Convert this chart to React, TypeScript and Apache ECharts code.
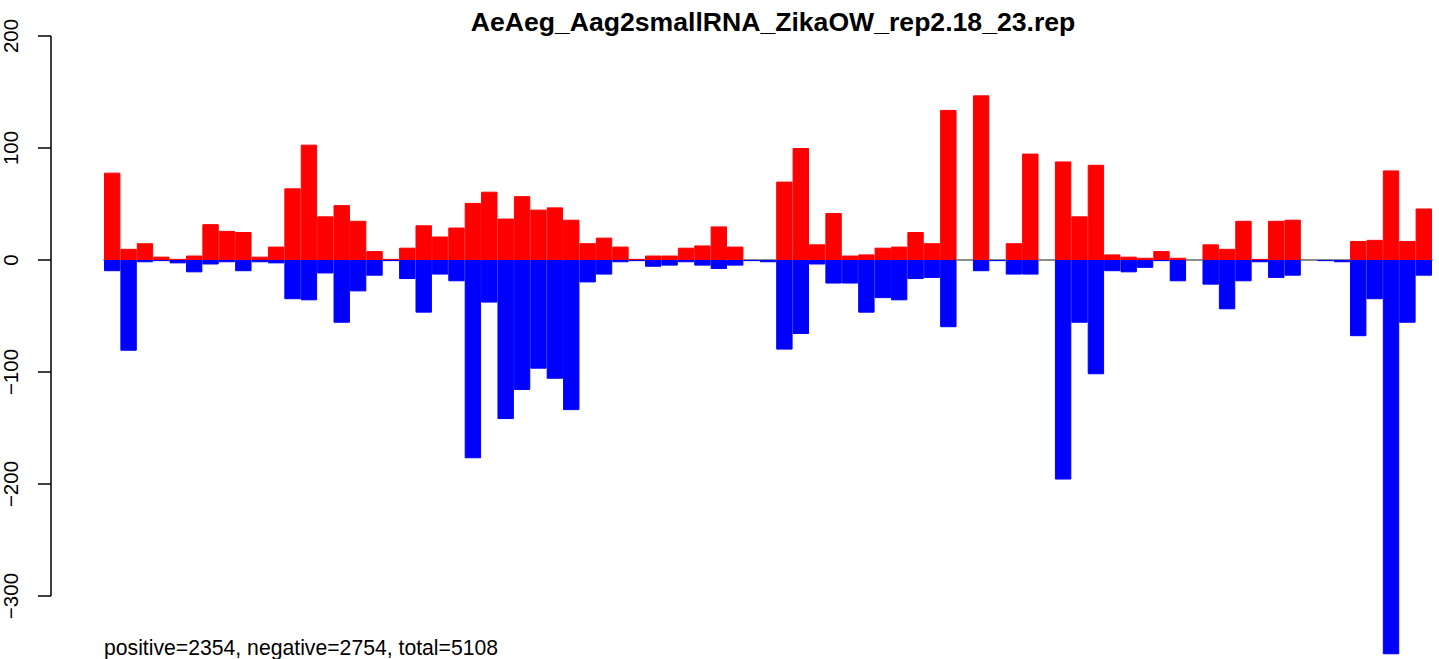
import React, { useEffect, useRef } from "react";
import * as echarts from "echarts";

const titleText = "AeAeg_Aag2smallRNA_ZikaOW_rep2.18_23.rep";
const footerText = "positive=2354, negative=2754, total=5108";

const positiveValues = [
  78, 10, 15, 3, 1, 4, 32, 26, 25, 3, 12, 64, 103, 39, 49, 35, 8, 1, 11,
  31, 21, 29, 51, 61, 37, 57, 45, 47, 36, 15, 20, 12, 1, 4, 4, 11, 13,
  30, 12, 0, 0, 70, 100, 14, 42, 4, 5, 11, 12, 25, 15, 134, 0, 147, 0, 15, 95, 0,
  88, 39, 85, 5, 3, 2, 8, 2, 0, 14, 10, 35, 1, 35, 36, 0, 0, 0, 17, 18, 80, 17, 46,
];

const negativeValues = [
  -10, -81, -2, -1, -3, -11, -4, -2, -10, -2, -3, -35, -36, -12, -56, -28, -14, -1, -17,
  -47, -13, -19, -177, -38, -142, -116, -97, -106, -134, -20, -13, -2, -1, -6, -5, -2, -5,
  -8, -5, -1, -2, -80, -66, -4, -21, -21, -47, -34, -36, -17, -16, -60, 0, -10, -1, -13, -13, 0,
  -196, -56, -102, -10, -11, -7, -1, -19, 0, -22, -44, -19, -2, -16, -14, 0, -1, -2, -68, -35, -352, -56, -14,
];

const categories = positiveValues.map((_, i) => String(i + 1));
const yTicks = [-300, -200, -100, 0, 100, 200];

const FONT = "'Liberation Sans', Arial, Helvetica, sans-serif";

export default function App() {
  const ref = useRef<HTMLDivElement>(null);

  useEffect(() => {
    if (!ref.current) return;
    const chart = echarts.init(ref.current, null, { renderer: "svg" });
    const toData = (arr: number[]) => arr.map((v) => (v === 0 ? null : v));
    const gridLeft = 104;
    const gridRight = 7;
    const plotCenter = gridLeft + (1439 - gridLeft - gridRight) / 2;
    const option: any = {
      animation: false,
      backgroundColor: "#ffffff",
      textStyle: { fontFamily: FONT },
      title: {
        text: titleText,
        left: plotCenter,
        textAlign: "center",
        top: 3,
        textStyle: { fontFamily: FONT, fontWeight: "bold", fontSize: 26.6, color: "#000" },
      },
      grid: { left: gridLeft, right: gridRight, top: 36, bottom: 3.6, containLabel: false },
      xAxis: {
        type: "category",
        data: categories,
        boundaryGap: true,
        axisLine: { show: true, onZero: true, lineStyle: { color: "#666666", width: 1.5 } },
        axisTick: { show: false },
        axisLabel: { show: false },
        splitLine: { show: false },
      },
      yAxis: {
        type: "value",
        min: -353,
        max: 200,
        offset: 53,
        axisLine: { show: false },
        splitLine: { show: false },
        axisTick: {
          show: true,
          length: 13,
          customValues: yTicks,
          lineStyle: { color: "#000", width: 1.5 },
        },
        axisLabel: {
          show: true,
          customValues: yTicks,
          rotate: 90,
          margin: 30,
          fontSize: 20.5,
          fontFamily: FONT,
          color: "#000",
          formatter: (v: number) => (v < 0 ? "\u2212" + Math.abs(v) : String(v)),
        },
      },
      series: [
        {
          name: "negative",
          type: "bar",
          data: toData(negativeValues),
          barGap: "-100%",
          barCategoryGap: "0%",
          itemStyle: { color: "#0000ff", borderColor: "#0000ff", borderWidth: 1 },
          z: 2,
        },
        {
          name: "positive",
          type: "bar",
          data: toData(positiveValues),
          barGap: "-100%",
          barCategoryGap: "0%",
          itemStyle: { color: "#ff0000", borderColor: "#ff0000", borderWidth: 1 },
          z: 3,
        },
      ],
    };
    chart.setOption(option);

    const yTop = chart.convertToPixel({ yAxisIndex: 0 }, yTicks[yTicks.length - 1]) as number;
    const yBot = chart.convertToPixel({ yAxisIndex: 0 }, yTicks[0]) as number;
    const axisX = gridLeft - 53;
    chart.setOption({
      graphic: [
        {
          type: "line",
          shape: { x1: axisX, y1: yTop, x2: axisX, y2: yBot },
          style: { stroke: "#000", lineWidth: 1.5 },
          z: 10,
        },
        {
          type: "text",
          left: gridLeft,
          top: 637,
          style: { text: footerText, fontSize: 21.2, fontFamily: FONT, fill: "#000" },
          z: 10,
        },
      ],
    });

    return () => chart.dispose();
  }, []);

  return (
    <div
      ref={ref}
      style={{ position: "fixed", left: 0, top: 0, width: 1439, height: 659, background: "#fff" }}
    />
  );
}
